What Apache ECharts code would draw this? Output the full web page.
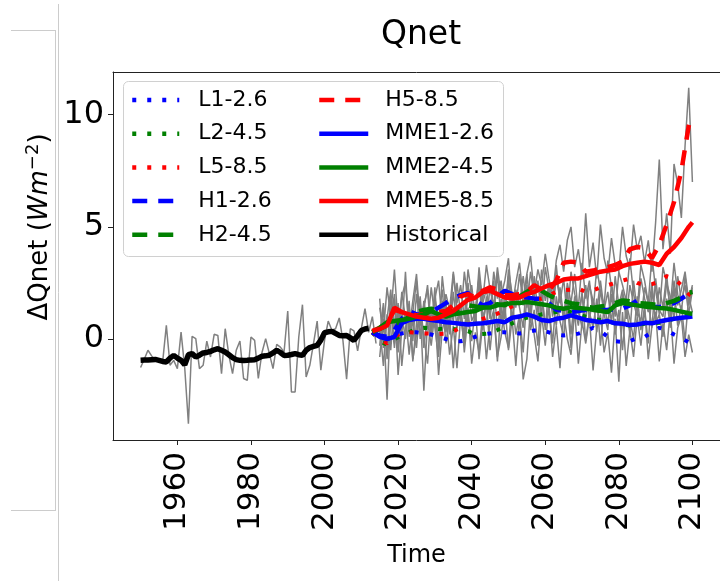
<!DOCTYPE html>
<html>
<head>
<meta charset="utf-8">
<script src="https://cdn.jsdelivr.net/npm/echarts@6/dist/echarts.min.js"></script>
<style>
html, body { margin: 0; padding: 0; background: #fff; }
#chart { width: 720px; height: 581px; }
</style>
</head>
<body>
<div id="chart"></div>
<script>
// Qnet anomaly: historical + scenario projections
let FONT = 'DejaVu Sans';

let histYears = [];
for (let y = 1950; y <= 2014; y++) histYears.push(y);
let futYears = [];
for (let y = 2015; y <= 2100; y++) futYears.push(y);
// smoothed curves, every two years
let smYears = [2013, 2015, 2017, 2019, 2021, 2023, 2025, 2027, 2029, 2031, 2033, 2035, 2037, 2039, 2041,
    2043, 2045, 2047, 2049, 2051, 2053, 2055, 2057, 2059, 2061, 2063, 2065, 2067, 2069, 2071, 2073,
    2075, 2077, 2079, 2081, 2083, 2085, 2087, 2089, 2091, 2093, 2095, 2097, 2099, 2100];

let xTicks = [1960, 1980, 2000, 2020, 2040, 2060, 2080, 2100];
let yTicks = [0, 5, 10];

// annual historical (grey) and its running mean (black)
let histGrey = [-1.27, -0.9, -0.5, -0.75, -0.95, -1.0, -1.02, 0.61, -1.17, -0.95,
    -1.32, 0.31, -1.29, -3.77, 0.12, 0.02, -1.32, -1.17, -0.09, -0.80,
    0.21, 0.16, -1.54, 0.46, -0.73, -1.54, -0.5, -0.09, -1.76, -1.84,
    0.09, -0.06, -1.76, -0.6, 0.02, -0.65, -1.32, -0.24, -0.36, -0.58,
    1.25, -2.36, -2.36, 0.09, 1.53, -1.69, -1.17, -0.21, 0.80, -1.39,
    -0.06, 0.80, 0.39, 0.46, 0.94, -0.06, -1.79, 0.46, 0.36, -0.53,
    0.46, 1.35, 0.3, 1.0, -0.2];
let histMean = [-0.95, -0.94, -0.93, -0.92, -0.91, -0.95, -1.0, -1.02, -0.85, -0.73,
    -0.85, -0.95, -1.15, -0.7, -0.65, -0.8, -0.72, -0.62, -0.6, -0.55,
    -0.48, -0.43, -0.5, -0.58, -0.7, -0.83, -0.92, -0.95, -0.96, -0.95,
    -0.93, -0.92, -0.85, -0.77, -0.75, -0.72, -0.62, -0.5, -0.6, -0.73,
    -0.72, -0.69, -0.65, -0.7, -0.73, -0.5, -0.38, -0.33, -0.28, -0.05,
    0.28, 0.32, 0.34, 0.25, 0.16, 0.15, 0.16, 0.05, -0.06, 0.15,
    0.38, 0.45, 0.48];

// annual model runs 2015-2100 (grey)
let greyL1 = [-0.8, 0.9, -2.7, 1.3, -0.4, 1.6, -1.2, 0.5, 1.4, -0.9,
    0.2, 1.5, -2.3, 0.8, -0.3, 1.2, -1.6, 0.4, 1.1, -0.7,
    0.6, -1.3, 1.0, -0.2, 1.4, -1.1, 0.3, -0.6, 1.2, -0.9,
    0.7, 1.3, -0.8, 0.1, 1.6, -0.5, 0.9, -1.2, 1.0, -1.8,
    -0.9, 1.4, 0.2, -1.0, 1.1, -0.3, 1.5, -0.8, 0.6, -1.3,
    1.2, 0.0, -0.7, 1.3, -1.1, 0.8, -0.2, 1.0, -1.4, 0.5,
    1.1, -0.6, 0.3, -1.5, 0.9, -1.9, 1.2, -1.2, 0.4, -0.8,
    1.0, -0.3, 1.4, -0.9, 0.6, 1.2, -1.0, 0.7, -0.5, 1.3,
    -1.1, 0.5, 1.0, -0.8, 0.2, -0.6];
let greyL2 = [0.6, -1.2, 1.1, -0.5, 1.8, -1.6, 0.4, 1.2, -0.7, 0.9,
    -0.4, 1.6, 0.1, -1.1, 1.3, 0.5, -0.8, 1.7, -0.2, 1.0,
    -1.3, 0.8, 1.5, -0.6, 1.1, -0.1, 1.4, -0.9, 0.7, 1.6,
    -0.5, 1.2, -1.0, 1.5, 0.3, -0.4, 1.8, 0.2, 1.1, -0.6,
    2.0, 0.4, 1.3, -0.3, 2.2, 0.6, 1.5, -0.2, 1.9, 0.8,
    0.1, 1.7, -0.4, 1.4, 0.6, 2.1, -0.1, 1.2, 0.5, 1.8,
    -0.3, 1.5, 0.7, 2.0, 0.2, 1.3, -0.5, 1.6, 0.9, 0.0,
    1.9, 0.4, 1.4, -0.2, 2.2, 0.7, 1.1, 0.1, 1.8, 0.5,
    2.3, 0.6, 1.5, -0.1, 1.9, 1.2];
let greyL5 = [-0.3, 1.4, -0.9, 0.8, 2.0, -0.6, 1.1, 0.0, 1.7, -1.0,
    0.7, 1.9, -0.4, 1.2, 0.3, 2.3, -0.5, 1.0, 1.6, 0.2,
    2.1, 0.5, 1.4, -0.2, 2.5, 0.8, 1.2, 2.7, 0.4, 1.9,
    0.9, 2.6, 0.3, 1.8, 1.1, 2.8, 0.6, 2.2, 1.4, 0.5,
    2.9, 1.3, 2.0, 0.8, 3.1, 1.7, 2.4, 1.0, 3.3, 1.6,
    2.7, 0.9, 3.0, 2.0, 1.4, 3.4, 1.8, 2.6, 1.2, 3.2,
    2.1, 1.5, 3.5, 2.3, 1.0, 3.0, 2.4, 1.7, 3.6, 2.0,
    1.3, 3.3, 2.6, 1.6, 3.7, 2.2, 1.1, 3.2, 2.5, 1.4,
    3.4, 2.0, 1.2, 2.8, 1.5, 2.3];
let greyH1 = [1.8, -0.4, 0.9, 2.2, -0.2, 1.5, 0.3, 3.0, 0.1, 1.2,
    2.6, 0.0, 1.7, 0.6, 2.3, 1.0, -0.1, 2.8, 1.3, 0.5,
    2.9, 1.4, 0.8, 3.0, 1.7, 2.4, 0.9, 3.2, 1.6, 2.2,
    1.1, 3.0, 1.8, 2.6, 0.9, 3.1, 2.0, 1.4, 2.9, 1.5,
    2.4, 0.7, 2.8, 1.2, 2.1, 0.4, 2.5, 1.6, 0.6, 2.3,
    1.0, 2.1, 0.2, 1.9, 1.3, 0.5, 2.4, 0.9, 1.8, 0.3,
    2.2, 1.1, 0.4, 2.5, 1.4, 0.7, 2.0, 1.5, 0.2, 2.6,
    1.2, 0.8, 2.3, 1.6, 0.5, 2.7, 1.3, 1.0, 2.5, 1.9,
    0.9, 2.8, 1.7, 2.4, 1.1, 2.2];
let greyH2 = [0.2, 1.6, -0.6, 1.9, 0.7, -0.3, 2.1, 0.9, 1.4, -0.1,
    2.0, 0.6, 1.3, 2.4, 0.4, 1.8, 0.9, 2.2, 0.3, 1.5,
    0.8, 2.5, 1.1, 0.2, 2.3, 1.6, 0.7, 2.6, 1.2, 0.6,
    2.4, 1.3, 2.9, 0.8, 1.7, 2.5, 0.9, 2.1, 1.5, 2.8,
    1.4, 3.0, 1.9, 2.6, 1.0, 3.2, 2.2, 1.3, 2.7, 1.8,
    0.9, 2.5, 1.6, 2.9, 1.1, 2.0, 0.8, 2.4, 1.7, 1.2,
    2.6, 1.3, 2.1, 0.7, 2.8, 1.5, 2.2, 0.9, 2.4, 1.6,
    1.0, 2.7, 1.8, 1.2, 2.5, 0.8, 2.3, 1.4, 2.9, 1.1,
    2.6, 1.5, 2.2, 3.0, 1.7, 2.4];
let greyH5 = [1.4, 0.3, 2.3, 1.0, 3.1, 0.6, 1.9, 2.5, 0.4, 1.7,
    2.9, 0.8, 1.5, 2.2, 0.1, 1.8, 2.6, 0.7, 2.0, 1.3,
    3.0, 1.6, 2.4, 0.9, 3.1, 2.0, 1.2, 2.8, 1.7, 3.3,
    2.2, 1.5, 3.2, 1.9, 2.6, 3.6, 1.4, 2.5, 3.4, 1.8,
    2.9, 3.7, 2.0, 3.1, 2.4, 3.8, 2.7, 1.9, 3.5, 4.2,
    3.0, 4.4, 5.0, 3.2, 4.0, 2.8, 5.6, 3.2, 4.3, 2.7,
    5.1, 3.6, 2.9, 4.5, 3.3, 3.0, 5.0, 3.7, 3.1, 5.1,
    4.0, 4.6, 3.4, 4.4, 3.0, 5.2, 8.0, 4.0, 5.6, 3.8,
    7.8, 6.9, 5.4, 8.6, 11.2, 7.0];

// smoothed scenario curves on smYears
let L1 = [0.3, 0.1, 0.0, 0.15, 0.25, 0.3, 0.3, 0.25, 0.2, 0.1, 0.0, -0.1, -0.1, 0.0, 0.1,
    0.2, 0.25, 0.3, 0.3, 0.28, 0.25, 0.3, 0.38, 0.4, 0.3, 0.2, 0.16, 0.2, 0.24, 0.35, 0.5,
    0.35, 0.1, -0.1, -0.13, -0.1, 0.05, 0.09, 0.3, 0.5, 0.4, 0.2, 0.05, -0.15, -0.2];
let L2 = [0.3, -0.1, -0.25, 0.0, 0.15, 0.3, 0.45, 0.5, 0.48, 0.45, 0.47, 0.45, 0.4, 0.35, 0.2,
    0.22, 0.25, 0.4, 0.55, 0.7, 0.83, 0.95, 1.0, 1.1, 1.15, 1.2, 1.28, 1.2, 1.1, 1.0, 0.9,
    0.85, 0.8, 0.7, 0.65, 0.6, 0.62, 0.68, 0.7, 0.72, 0.8, 0.9, 1.05, 1.2, 1.28];
let L5 = [0.3, 0.0, -0.2, 0.1, 0.3, 0.3, 0.28, 0.25, 0.24, 0.22, 0.24, 0.35, 0.5, 0.65, 0.76,
    0.9, 1.0, 1.13, 1.3, 1.45, 1.6, 1.72, 1.78, 1.8, 1.95, 2.1, 2.17, 2.2, 2.25, 2.1, 2.17,
    2.3, 2.4, 2.5, 2.6, 2.7, 2.5, 2.4, 2.45, 2.55, 2.8, 2.7, 2.4, 2.0, 1.9];
let H1 = [0.3, 0.15, 0.1, 0.4, 0.9, 1.25, 1.1, 1.05, 1.2, 1.4, 1.6, 1.85, 1.95, 2.05, 1.7,
    1.5, 1.6, 1.9, 2.15, 2.0, 1.9, 1.85, 1.8, 1.8, 1.6, 1.3, 1.25, 1.2, 1.25, 1.3, 1.28,
    1.28, 1.3, 1.33, 1.36, 1.5, 1.72, 1.6, 1.45, 1.42, 1.5, 1.6, 1.8, 2.0, 2.05];
let H2 = [0.3, 0.45, 0.6, 0.7, 0.75, 1.0, 1.2, 1.3, 1.35, 1.3, 1.2, 1.25, 1.35, 1.5, 1.45,
    1.4, 1.5, 1.55, 1.5, 1.7, 1.9, 2.1, 2.3, 2.15, 1.95, 1.8, 1.7, 1.6, 1.55, 1.45, 1.4,
    1.45, 1.5, 1.6, 1.72, 1.68, 1.6, 1.58, 1.55, 1.5, 1.6, 1.7, 1.85, 2.05, 2.1];
let H5 = [0.35, 0.5, 0.7, 1.3, 1.2, 1.15, 1.05, 1.1, 1.2, 1.2, 1.25, 1.5, 1.9, 2.0, 1.85,
    2.15, 2.3, 2.2, 1.95, 1.95, 2.0, 2.1, 2.4, 2.2, 2.15, 2.6, 3.4, 3.45, 3.4, 3.0, 3.05,
    3.15, 3.2, 3.3, 3.45, 4.0, 4.1, 4.05, 3.6, 4.2, 5.1, 6.1, 7.5, 9.5, 10.0];
let MME1 = [0.3, 0.1, 0.0, 0.1, 0.7, 0.85, 0.9, 0.9, 0.85, 0.8, 0.75, 0.72, 0.68, 0.65, 0.68,
    0.7, 0.75, 0.8, 0.75, 0.95, 1.0, 1.1, 1.0, 0.85, 0.8, 0.9, 0.95, 1.05, 0.95, 0.85, 0.8,
    0.75, 0.8, 0.7, 0.68, 0.62, 0.65, 0.72, 0.7, 0.78, 0.85, 0.9, 0.95, 0.98, 1.0];
let MME2 = [0.3, 0.5, 0.75, 0.8, 0.85, 0.9, 1.0, 1.1, 1.25, 1.1, 1.0, 1.1, 1.15, 1.2, 1.25,
    1.4, 1.4, 1.5, 1.55, 1.6, 1.6, 1.65, 1.6, 1.55, 1.5, 1.4, 1.35, 1.42, 1.38, 1.35, 1.3,
    1.25, 1.2, 1.5, 1.6, 1.55, 1.5, 1.45, 1.42, 1.38, 1.36, 1.3, 1.22, 1.15, 1.13];
let MME5 = [0.35, 0.45, 0.6, 1.4, 1.2, 1.1, 1.0, 0.95, 0.9, 0.95, 1.1, 1.25, 1.5, 1.75, 1.85,
    2.1, 2.15, 2.0, 1.85, 1.8, 1.85, 2.0, 2.1, 2.25, 2.4, 2.5, 2.65, 2.7, 2.7, 2.8, 2.9,
    3.0, 3.05, 3.1, 3.25, 3.35, 3.4, 3.45, 3.4, 3.3, 3.8, 4.1, 4.5, 5.0, 5.2];

function pairs(xs, ys) {
    return ys.map(function (v, i) { return [xs[i], v]; });
}

let BLUE = '#0000ff', GREEN = '#008000', RED = '#ff0000';
let DOT = [4, 11], DASH = [15, 11];

function greyLine(xs, ys) {
    return {
        type: 'line', name: 'run', data: pairs(xs, ys), showSymbol: false, symbol: 'none',
        lineStyle: { color: '#808080', width: 1.5 }, z: 1, silent: true
    };
}
function curve(name, ys, color, dash, width) {
    return {
        type: 'line', name: name, data: pairs(smYears, ys), symbol: 'none',
        itemStyle: { color: color },
        lineStyle: { color: color, width: width, type: dash, cap: 'butt' }, z: 3, silent: true
    };
}

let legendText = { fontSize: 22, fontFamily: FONT, color: '#000', lineHeight: 22 };

let chart = echarts.init(document.getElementById('chart'));
let option = {
    animation: false,
    textStyle: { fontFamily: FONT },
    grid: { left: 113, top: 72, width: 618, height: 368 },
    graphic: [
        // stray frame lines at the left edge of the figure
        { type: 'line', shape: { x1: 58.5, y1: 4, x2: 58.5, y2: 581 }, style: { stroke: '#cccccc', lineWidth: 1 } },
        { type: 'line', shape: { x1: 11, y1: 30.5, x2: 55, y2: 30.5 }, style: { stroke: '#cccccc', lineWidth: 1 } },
        { type: 'line', shape: { x1: 11, y1: 510.5, x2: 55, y2: 510.5 }, style: { stroke: '#cccccc', lineWidth: 1 } },
        { type: 'line', shape: { x1: 55.5, y1: 30, x2: 55.5, y2: 511 }, style: { stroke: '#cccccc', lineWidth: 1 } },
        // title
        { type: 'text', x: 421, y: 35, style: { text: 'Qnet', fontSize: 33, fontFamily: FONT, fill: '#000', align: 'center', verticalAlign: 'middle' } },
        // y axis title
        {
            type: 'text', x: 40, y: 227, rotation: Math.PI / 2,
            style: {
                text: '{a|ΔQnet (}{i|Wm}{s|−2}{a|)}', align: 'center', verticalAlign: 'middle',
                rich: {
                    a: { fontSize: 26, fontFamily: FONT, fill: '#000' },
                    i: { fontSize: 26, fontFamily: FONT, fontStyle: 'italic', fill: '#000' },
                    s: { fontSize: 18, fontFamily: FONT, fill: '#000', padding: [0, 0, 13, 0] }
                }
            }
        },
        // legend frame
        { type: 'rect', z: 10, shape: { x: 123.5, y: 81.5, width: 380, height: 175, r: 5 },
          style: { fill: 'rgba(255,255,255,0.85)', stroke: '#d0d0d0', lineWidth: 1 } }
    ],
    legend: [
        {
            data: ['L1-2.6', 'L2-4.5', 'L5-8.5', 'H1-2.6', 'H2-4.5'],
            orient: 'vertical', left: 130, top: 89, padding: 0, z: 20,
            itemWidth: 47, itemHeight: 22, itemGap: 11.7,
            itemStyle: { opacity: 0 },
            lineStyle: { width: 4.5 },
            textStyle: Object.assign({ padding: [0, 0, 0, 14] }, legendText)
        },
        {
            data: ['H5-8.5', 'MME1-2.6', 'MME2-4.5', 'MME5-8.5', 'Historical'],
            orient: 'vertical', left: 317, top: 89, padding: 0, z: 20,
            itemWidth: 49, itemHeight: 22, itemGap: 11.7,
            itemStyle: { opacity: 0 },
            lineStyle: { width: 4.5 },
            textStyle: Object.assign({ padding: [0, 0, 0, 12] }, legendText)
        }
    ],
    xAxis: [
        {
            type: 'value', min: 1942.5, max: 2107.5,
            name: 'Time', nameLocation: 'middle', nameGap: 104,
            nameTextStyle: { fontSize: 24, fontFamily: FONT, color: '#000' },
            axisLine: { onZero: false, lineStyle: { color: '#222', width: 1 } },
            axisTick: { customValues: xTicks, length: 5, lineStyle: { color: '#222' } },
            axisLabel: {
                customValues: xTicks, rotate: 90, margin: 12, fontSize: 31, fontFamily: FONT, color: '#000',
                formatter: function (v) { return String(v); }
            },
            splitLine: { show: false }
        },
        {
            // top spine only
            type: 'value', position: 'top', min: 1942.5, max: 2107.5,
            axisLine: { onZero: false, lineStyle: { color: '#222', width: 1 } },
            axisTick: { show: false }, axisLabel: { show: false }, splitLine: { show: false }
        }
    ],
    yAxis: {
        type: 'value', min: -4.5, max: 11.9,
        axisLine: { onZero: false, lineStyle: { color: '#222', width: 1 } },
        axisTick: { customValues: yTicks, length: 5, lineStyle: { color: '#222' } },
        axisLabel: {
            customValues: yTicks, margin: 9, fontSize: 32, fontFamily: FONT, color: '#000',
            formatter: function (v) { return String(v); }
        },
        splitLine: { show: false }
    },
    series: [
        greyLine(histYears, histGrey),
        greyLine(futYears, greyL1),
        greyLine(futYears, greyL2),
        greyLine(futYears, greyL5),
        greyLine(futYears, greyH1),
        greyLine(futYears, greyH2),
        greyLine(futYears, greyH5),
        {
            type: 'line', name: 'Historical', data: pairs(histYears, histMean), symbol: 'none',
            itemStyle: { color: '#000' }, lineStyle: { color: '#000', width: 5.5 }, z: 3, silent: true
        },
        curve('L1-2.6', L1, BLUE, DOT, 4),
        curve('L2-4.5', L2, GREEN, DOT, 4),
        curve('L5-8.5', L5, RED, DOT, 4),
        curve('H1-2.6', H1, BLUE, DASH, 4.5),
        curve('H2-4.5', H2, GREEN, DASH, 4.5),
        curve('H5-8.5', H5, RED, DASH, 4.5),
        curve('MME1-2.6', MME1, BLUE, 'solid', 4.5),
        curve('MME2-4.5', MME2, GREEN, 'solid', 4.5),
        curve('MME5-8.5', MME5, RED, 'solid', 4.5)
    ]
};
chart.setOption(option);

window.addEventListener('resize', function () {
    chart.resize();
});
</script>
</body>
</html>
